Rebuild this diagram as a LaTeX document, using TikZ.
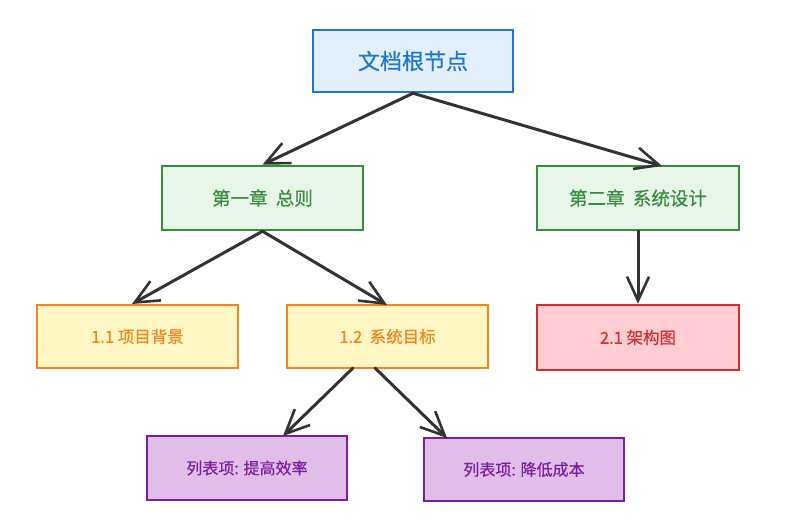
\documentclass[tikz,border=0pt]{standalone}
\usepackage{fontspec}
\setmainfont{Noto Sans CJK SC}[FakeBold=0.6]
\usetikzlibrary{arrows.meta}
\definecolor{bluest}{HTML}{1E78D2}
\definecolor{bluefl}{HTML}{E3F0FC}
\definecolor{greenst}{HTML}{388E3C}
\definecolor{greenfl}{HTML}{E8F5E9}
\definecolor{orangest}{HTML}{F5841F}
\definecolor{orangefl}{HTML}{FFF8C4}
\definecolor{redst}{HTML}{D32F2F}
\definecolor{redfl}{HTML}{FFCDD2}
\definecolor{purplest}{HTML}{7B1FA2}
\definecolor{purplefl}{HTML}{E1BEE7}
\definecolor{edgec}{HTML}{333333}
\tikzset{
  x=1pt,y=-1pt,
  box/.style={draw, line width=2.5pt, minimum width=200pt, minimum height=63pt, inner sep=0pt, anchor=center},
  rootbox/.style={box, draw=bluest, fill=bluefl, text=bluest, font=\fontsize{22}{26}\selectfont},
  chapbox/.style={box, draw=greenst, fill=greenfl, text=greenst, font=\fontsize{18.5}{22}\selectfont},
  secbox/.style={box, draw=orangest, fill=orangefl, text=orangest, font=\fontsize{16.5}{20}\selectfont},
  redbox/.style={box, draw=redst, fill=redfl, text=redst, font=\fontsize{16.5}{20}\selectfont},
  itembox/.style={box, draw=purplest, fill=purplefl, text=purplest, font=\fontsize{16}{19}\selectfont},
  link/.style={draw=edgec, line width=3pt, line cap=round, -{Straight Barb[length=24pt,width=22pt,line width=2.6pt]}},
}
\begin{document}
\begin{tikzpicture}
\useasboundingbox (0,0) rectangle (787,526);
\fill[white] (0,0) rectangle (787,526);
\node[rootbox, minimum width=200pt, minimum height=62pt] (root) at (413,61) {文档根节点};
\node[chapbox, minimum width=201pt, minimum height=64pt] (ch1) at (262.5,198) {第一章\ \ 总则};
\node[chapbox, minimum width=202pt, minimum height=64pt] (ch2) at (638,198) {第二章\ \ 系统设计};
\node[secbox, minimum width=201pt] (s11) at (137.5,336.5) {1.1 项目背景};
\node[secbox, minimum width=201pt] (s12) at (387.5,336.5) {1.2\ \ 系统目标};
\node[redbox, minimum width=202pt, minimum height=65pt] (s21) at (638,337.5) {2.1 架构图};
\node[itembox, minimum height=64pt] (i1) at (247,468) {列表项: 提高效率};
\node[itembox] (i2) at (524,469.5) {列表项: 降低成本};
\coordinate (ch2in) at (662,166);
\coordinate (s12in) at (387,305);
\coordinate (s11in) at (132,304);
\coordinate (i1in) at (283,436);
\coordinate (i2in) at (447,438);
\coordinate (s12outl) at (353,368);
\coordinate (s12outr) at (375,368);
\draw[link] (root.south) -- (ch1.north);
\draw[link] (root.south) -- (ch2in);
\draw[link] (ch2.south) -- (s21.north);
\draw[link] (ch1.south) -- (s11in);
\draw[link] (ch1.south) -- (s12in);
\draw[link] (s12outl) -- (i1in);
\draw[link] (s12outr) -- (i2in);
\end{tikzpicture}
\end{document}
